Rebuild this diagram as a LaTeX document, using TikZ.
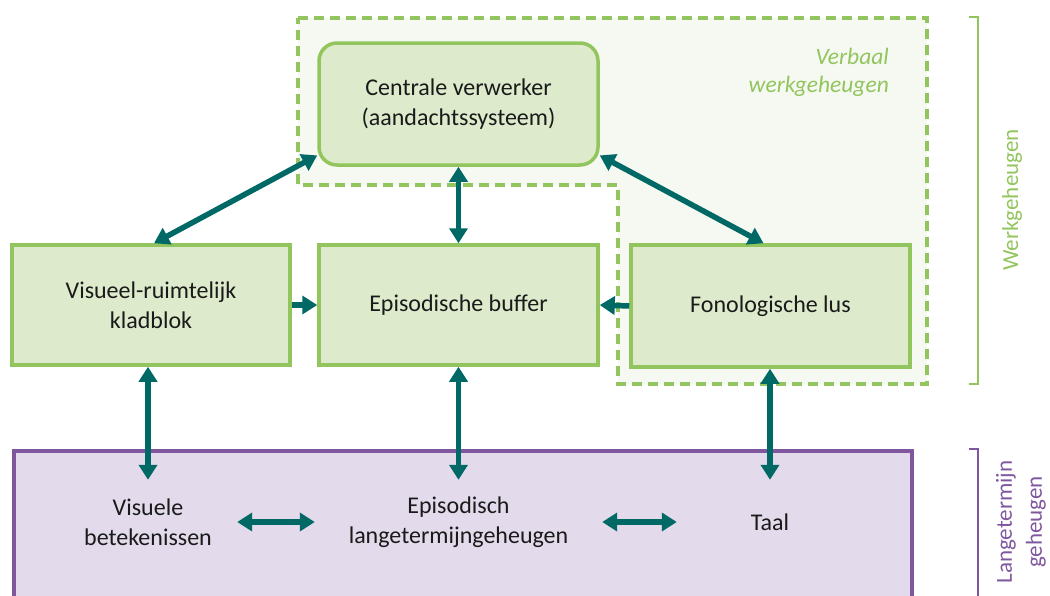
\documentclass[tikz,border=0pt]{standalone}
\usepackage{fontspec}
\setmainfont{Carlito}
\usetikzlibrary{arrows.meta,calc}
\definecolor{wmgreen}{HTML}{92C55E}
\definecolor{wmfill}{HTML}{DDEBCC}
\definecolor{regionfill}{HTML}{F6F9F1}
\definecolor{ltmpurple}{HTML}{7F579F}
\definecolor{ltmfill}{HTML}{E3DBEB}
\definecolor{linkteal}{HTML}{006966}
\definecolor{textblack}{HTML}{1A1A1A}
\tikzset{
  box/.style={draw=wmgreen, fill=wmfill, line width=3.5pt, align=center,
    text=textblack, inner sep=0pt},
  store/.style={align=center, text=textblack, inner sep=0pt, minimum height=84pt},
  link/.style={draw=linkteal, line width=5.5pt,
    {Triangle[width=18pt,length=15pt]}-{Triangle[width=18pt,length=15pt]}},
  onelink/.style={draw=linkteal, line width=5.5pt,
    -{Triangle[width=18pt,length=15pt]}},
  bracket/.style={line width=2pt}
}
\begin{document}
\begin{tikzpicture}[x=1pt,y=-1pt,font=\fontsize{24}{30}\selectfont]
\useasboundingbox (0,0) rectangle (1050,595);

% verbal working-memory region
\draw[wmgreen, fill=regionfill, line width=3.5pt, dash pattern=on 10pt off 6pt]
  (298,18) -- (927,18) -- (927,384) -- (618,384) -- (618,185) -- (298,185) -- cycle;
\node[wmgreen, anchor=east, align=right, inner sep=0pt,
      font=\fontsize{23.5}{28}\selectfont\itshape] (verb) at (889,72)
  {Verbaal\\werkgeheugen};

% working memory components
\node[box, rounded corners=18pt, minimum width=279pt, minimum height=122pt]
  (c) at (458.5,104) {Centrale verwerker\\(aandachtssysteem)};
\node[box, minimum width=278pt, minimum height=120pt]
  (v) at (151,305) {Visueel-ruimtelijk\\kladblok};
\node[box, minimum width=279pt, minimum height=120pt]
  (e) at (458.5,305) {Episodische buffer};
\node[box, minimum width=279pt, minimum height=122pt]
  (f) at (770.5,306) {Fonologische lus};

% long-term memory
\node[draw=ltmpurple, fill=ltmfill, line width=3.5pt, anchor=north west,
      minimum width=898pt, minimum height=170pt, inner sep=0pt]
  (ltm) at (12,449) {};
\node[store, text width=178pt] (vb) at (148,522) {Visuele\\betekenissen};
\node[store, text width=287pt] (el) at (458.5,522) {Episodisch\\langetermijngeheugen};
\node[store, text width=186pt] (taal) at (770,522) {Taal};

% connections
\draw[link] (c.200) -- ($(v.north)+(3,0)$);
\draw[link] (c.south) -- (e.north);
\draw[link] (c.-20) -- ($(f.north)+(-7,0)$);
\draw[onelink] (v.east) -- (e.west);
\draw[onelink] (f.west) -- (e.east);
\draw[link] (v.south -| vb.north) -- (vb.north);
\draw[link] (e.south -| el.north) -- (el.north);
\draw[link] (f.south -| taal.north) -- (taal.north);
\draw[link] (vb.east) -- (el.west);
\draw[link] (el.east) -- (taal.west);

% side brackets with labels
\draw[bracket, wmgreen] (969,17) -- (978,17) -- (978,384) -- (969,384);
\node[wmgreen, rotate=90, inner sep=0pt, font=\fontsize{23}{28}\selectfont]
  (wm) at (1012,200) {Werkgeheugen};
\draw[bracket, ltmpurple] (969,449) -- (978,449) -- (978,600);
\node[ltmpurple, rotate=90, align=center, inner sep=0pt,
      font=\fontsize{23}{30}\selectfont]
  (lt) at (1021,522) {Langetermijn\\geheugen};
\end{tikzpicture}
\end{document}
